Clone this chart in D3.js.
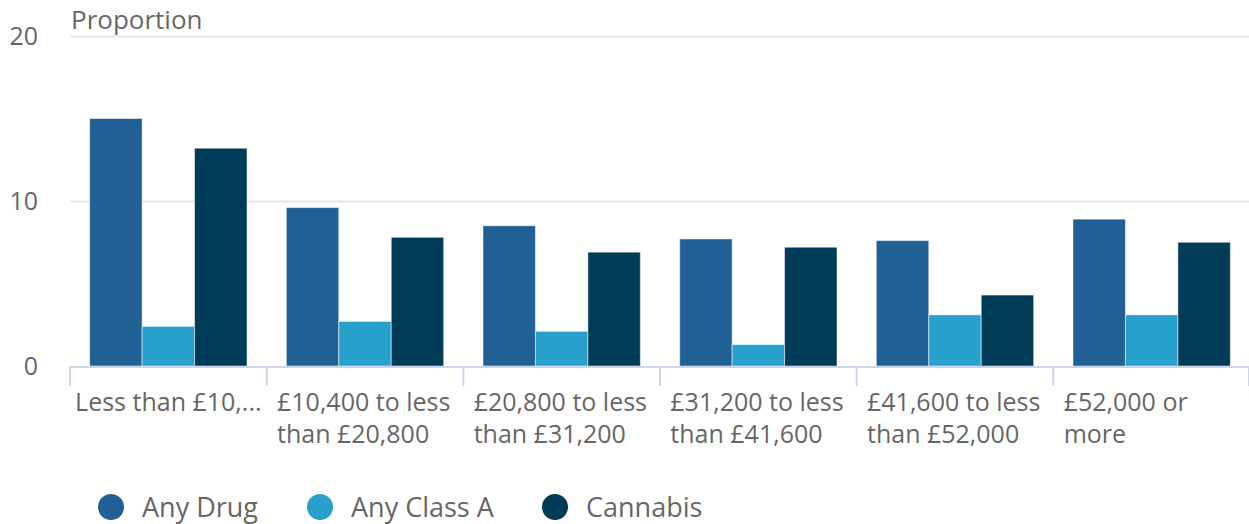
<!DOCTYPE html>
<html>
<head>
<meta charset="utf-8">
<script src="https://cdn.jsdelivr.net/npm/d3@7"></script>
<style>
  body { margin: 0; background: #fff; }
  text { font-family: "Open Sans", sans-serif; fill: #666; }
</style>
</head>
<body>
<div id="chart"></div>
<script>
const categories = [
    ["Less than £10,..."],
    ["£10,400 to less", "than £20,800"],
    ["£20,800 to less", "than £31,200"],
    ["£31,200 to less", "than £41,600"],
    ["£41,600 to less", "than £52,000"],
    ["£52,000 or", "more"]
];
const seriesNames = ["Any Drug", "Any Class A", "Cannabis"];
const seriesColors = ["#206095", "#27a0cc", "#003c57"];
const anyDrug = [15.0, 9.6, 8.5, 7.7, 7.6, 8.9];
const anyClassA = [2.4, 2.7, 2.1, 1.3, 3.1, 3.1];
const cannabis = [13.2, 7.8, 6.9, 7.2, 4.3, 7.5];
const yTicks = [0, 10, 20];

const seriesValues = [anyDrug, anyClassA, cannabis];
const width = 1249, height = 524;
const plotLeft = 70, plotRight = 1250, plotTop = 36, plotBottom = 366;

const svg = d3.select("#chart").append("svg")
    .attr("width", width)
    .attr("height", height);

const x0 = d3.scaleBand()
    .domain(d3.range(categories.length))
    .range([plotLeft, plotRight])
    .paddingInner(0)
    .paddingOuter(0);

const x1 = d3.scaleBand()
    .domain(d3.range(seriesNames.length))
    .range([0, x0.bandwidth()])
    .paddingOuter(0.375);

const y = d3.scaleLinear()
    .domain([0, 20])
    .range([plotBottom, plotTop]);

// gridlines
svg.append("g")
    .selectAll("line")
    .data(yTicks.filter(d => d > 0))
    .enter()
    .append("line")
        .attr("x1", plotLeft)
        .attr("x2", plotRight)
        .attr("y1", d => y(d) + 0.5)
        .attr("y2", d => y(d) + 0.5)
        .attr("stroke", "#e6e6e6")
        .attr("stroke-width", 2);

// y labels
svg.append("g")
    .selectAll("text")
    .data(yTicks)
    .enter()
    .append("text")
        .attr("x", 38)
        .attr("y", d => y(d) + 9)
        .attr("text-anchor", "end")
        .style("font-size", "25px")
        .text(d => d);

svg.append("text")
    .attr("x", 71)
    .attr("y", 29)
    .style("font-size", "26px")
    .text("Proportion");

// bars
const groups = svg.append("g")
    .selectAll("g")
    .data(categories.map((c, i) => i))
    .enter()
    .append("g")
        .attr("transform", i => `translate(${x0(i)},0)`);

groups.selectAll("rect")
    .data(i => seriesValues.map((s, k) => ({ k: k, v: s[i] })))
    .enter()
    .append("rect")
        .attr("x", d => x1(d.k))
        .attr("width", x1.bandwidth())
        .attr("y", d => y(d.v))
        .attr("height", d => y(0) - y(d.v))
        .attr("fill", d => seriesColors[d.k])
        .attr("stroke", "#ffffff")
        .attr("stroke-opacity", 0.5)
        .attr("stroke-width", 1);

// x axis line and ticks
svg.append("line")
    .attr("x1", plotLeft)
    .attr("x2", plotRight)
    .attr("y1", plotBottom + 1)
    .attr("y2", plotBottom + 1)
    .attr("stroke", "#ccd6eb")
    .attr("stroke-width", 2);

const tickPos = d3.range(categories.length + 1).map(i => i < categories.length ? x0(i) : plotRight - 1);
svg.append("g")
    .selectAll("line")
    .data(tickPos)
    .enter()
    .append("line")
        .attr("x1", d => d)
        .attr("x2", d => d)
        .attr("y1", plotBottom)
        .attr("y2", plotBottom + 20)
        .attr("stroke", "#ccd6eb")
        .attr("stroke-width", 2);

// x labels: fixed-width block centered in band, lines left-aligned
const labelG = svg.append("g");
categories.forEach((lines, i) => {
    const t = labelG.append("text").style("font-size", "25px");
    lines.forEach((ln, j) => {
        t.append("tspan").attr("y", 411 + j * 32).text(ln);
    });
    let w = 0;
    t.selectAll("tspan").each(function () { w = Math.max(w, this.getComputedTextLength()); });
    const cx = x0(i) + x0.bandwidth() / 2;
    const blockW = Math.max(w, 176);
    t.selectAll("tspan").attr("x", Math.max(x0(i) + 2, cx - blockW / 2));
});

// legend
const legendX = [111, 320, 555];
const legend = svg.append("g")
    .selectAll("g")
    .data(seriesNames)
    .enter()
    .append("g")
        .attr("transform", (d, i) => `translate(${legendX[i]},507)`);

legend.append("circle")
    .attr("r", 13)
    .attr("fill", (d, i) => seriesColors[i]);

legend.append("text")
    .attr("x", 31)
    .attr("y", 10)
    .style("font-size", "27px")
    .text(d => d);
</script>
</body>
</html>
